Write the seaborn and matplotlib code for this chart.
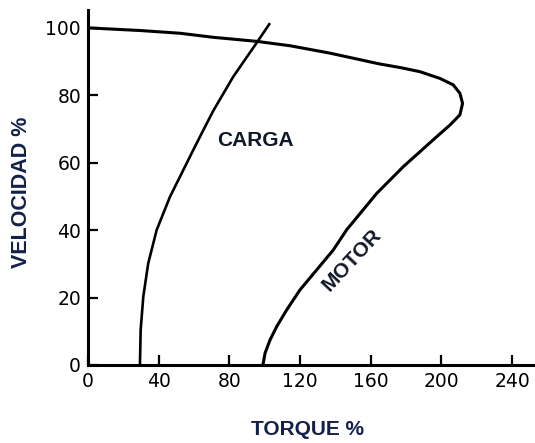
import matplotlib
matplotlib.use("Agg")
import matplotlib.pyplot as plt
import seaborn as sns
import pandas as pd

# curva del motor (torque %, velocidad %)
motor_torque = [0, 30, 52.1, 70.9, 95.5, 114.3, 137, 165, 177, 187.9, 199.2, 206.7,
                210.5, 212, 210.5, 204.9, 195.4, 178.4, 163.4, 146.4, 138.8, 129.4,
                120, 112.4, 106.8, 103, 100.2, 99.2, 98.8]
motor_vel = [100, 99.2, 98.4, 97.2, 96.0, 94.7, 92.5, 89.3, 88.2, 87.0, 85.0, 83.1,
             80.6, 77.6, 74.2, 71.2, 66.8, 58.8, 50.9, 40.1, 34.1, 28.2,
             22.3, 16.3, 11.4, 7.4, 3.5, 0.5, 0]

# curva de la carga
carga_torque = [29.4, 29.8, 31.3, 34.1, 38.9, 46.4, 55.9, 59.6, 65.3, 71, 82.2, 95.5, 103]
carga_vel = [0, 10.4, 20.3, 30.2, 40.1, 49.9, 59.9, 63.8, 69.7, 75.5, 85.5, 95.6, 101.4]

x_ticks = [0, 40, 80, 120, 160, 200, 240]
y_ticks = [0, 20, 40, 60, 80, 100]

df_motor = pd.DataFrame({"torque": motor_torque, "vel": motor_vel})
df_carga = pd.DataFrame({"torque": carga_torque, "vel": carga_vel})

sns.set_style("ticks")
plt.rcParams["font.family"] = ["Liberation Sans", "DejaVu Sans"]

fig = plt.figure(figsize=(5.35, 4.43), dpi=100)
ax = fig.add_axes([88 / 535, 78 / 443, 447 / 535, 355 / 443])

sns.lineplot(data=df_motor, x="torque", y="vel", sort=False, estimator=None,
             color="black", lw=2.2, ax=ax)
sns.lineplot(data=df_carga, x="torque", y="vel", sort=False, estimator=None,
             color="black", lw=1.9, ax=ax)
for ln in ax.lines:
    ln.set_solid_joinstyle("round")
    ln.set_solid_capstyle("butt")

ax.set_xlim(0, 253)
ax.set_ylim(0, 105.3)
ax.set_xticks(x_ticks)
ax.set_yticks(y_ticks)
ax.tick_params(direction="in", length=7, width=1.6, labelsize=13.5, colors="black", pad=5)
for lab in ax.get_xticklabels() + ax.get_yticklabels():
    lab.set_family("DejaVu Sans")
sns.despine(ax=ax)
for s in ["left", "bottom"]:
    ax.spines[s].set_linewidth(2.2)
    ax.spines[s].set_color("black")

ax.set_xlabel("TORQUE %", fontsize=15, fontweight="bold", color="#13204a")
ax.set_ylabel("VELOCIDAD %", fontsize=15.5, fontweight="bold", color="#13204a")
ax.xaxis.set_label_coords(0.491, -0.155)
ax.yaxis.set_label_coords(-0.125, 0.487)

ax.text(94.5, 66.6, "CARGA", fontsize=15, fontweight="bold", color="#101828",
        ha="center", va="center")
ax.text(149.2, 31.2, "MOTOR", fontsize=15, fontweight="bold", color="#101828",
        ha="center", va="center", rotation=47)

fig.savefig("out.png", dpi=100)
